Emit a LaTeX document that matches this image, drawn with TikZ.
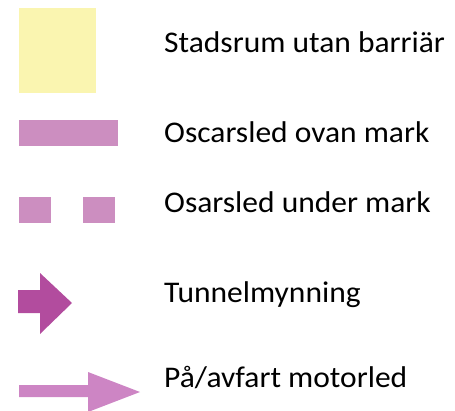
\documentclass[tikz,border=0pt]{standalone}
\usepackage{fontspec}
\setmainfont{Carlito}[FakeStretch=1.05]
\definecolor{lyellow}{HTML}{FAF5B0}
\definecolor{lpink}{HTML}{CC8EC0}
\definecolor{tmag}{HTML}{B24C9E}
\definecolor{mpink}{HTML}{CD85C4}
\begin{document}
\begin{tikzpicture}[x=1pt,y=-1pt,
  lbl/.style={anchor=base west,inner sep=0pt,font=\fontsize{30}{34}\selectfont}]
\useasboundingbox (0,0) rectangle (455,410);
% symbols
\fill[lyellow] (19,8) rectangle (96,93);
\fill[lpink] (19,120) rectangle (118,146);
\fill[lpink] (19,197) rectangle (51,223);
\fill[lpink] (83,197) rectangle (115,223);
\fill[tmag] (18,290) -- (40,290) -- (40,273) -- (72,303) -- (40,334) -- (40,313) -- (18,313) -- cycle;
\fill[mpink] (19,385) -- (88,385) -- (88,372) -- (140,392) -- (88,412) -- (88,397) -- (19,397) -- cycle;
% labels
\node[lbl] (t1) at (164,52) {Stadsrum utan barriär};
\node[lbl] (t2) at (164,142) {Oscarsled ovan mark};
\node[lbl] (t3) at (164,212) {Osarsled under mark};
\node[lbl] (t4) at (164,302) {Tunnelmynning};
\node[lbl] (t5) at (164,387) {På/avfart motorled};
\end{tikzpicture}
\end{document}
